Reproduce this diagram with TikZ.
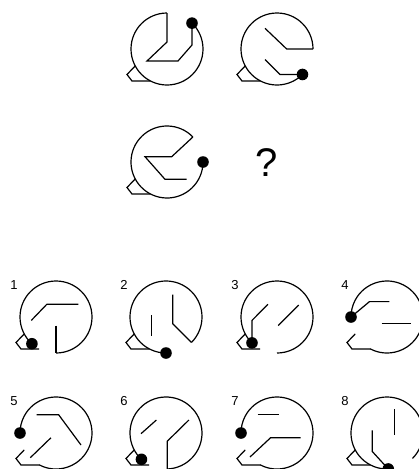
\documentclass[tikz,border=0pt]{standalone}
\usepackage{fontspec}
\setmainfont{Liberation Sans}
\tikzset{
  figline/.style={line width=1.2pt, line join=miter},
  dotmark/.style={fill=black},
  numlabel/.style={font=\fontsize{13}{13}\selectfont, inner sep=0pt},
  tabpath/.pic={\draw[figline] (208:36) -- (-40,-25.5) -- (-35,-32) -- (-17,-32);}
}
\begin{document}
\begin{tikzpicture}[x=1pt,y=1pt]
\useasboundingbox (0,0) rectangle (419,-469);
% Figure A
\begin{scope}[shift={(167,-49)}]
  \draw[figline] (90:36) arc[start angle=90,end angle=406,radius=36];
  \draw[figline] (0,36) -- (0,7) -- (-20,-12) -- (11,-12) -- (25,4) -- (46:36);
  \fill[dotmark] (46:36) circle[radius=5.8];
  \pic {tabpath};
\end{scope}
% Figure B
\begin{scope}[shift={(277,-49)}]
  \draw[figline] (0:36) arc[start angle=0,end angle=315,radius=36];
  \draw[figline] (0:36) -- (9.7,0) -- (-12,20.7);
  \draw[figline] (-12,-10.5) -- (3,-25.5) -- (315:36);
  \fill[dotmark] (315:36) circle[radius=5.8];
  \pic {tabpath};
\end{scope}
% Figure C
\begin{scope}[shift={(167,-162)}]
  \draw[figline] (44:36) arc[start angle=44,end angle=360,radius=36];
  \draw[figline] (44:36) -- (4.7,5.3) -- (-22,5.3) -- (-2,-17.3) -- (19.7,-17.3);
  \fill[dotmark] (0:36) circle[radius=5.8];
  \pic {tabpath};
\end{scope}
\node[font=\fontsize{40}{40}\selectfont, inner sep=0pt] (qm) at (267,-163) {?};
% Option 1
\begin{scope}[shift={(56,-317)}]
  \node[numlabel] (l1) at (-42,32) {1};
  \draw[figline] (-90:36) arc[start angle=-90,end angle=228,radius=36];
  \draw[figline] (-24.7,-3.4) -- (-9.2,12.7) -- (22.3,12.7);
  \draw[figline] (0,-8.6) -- (0,-36);
  \pic {tabpath};
  \fill[dotmark] (228:36) circle[radius=5.8];
\end{scope}
% Option 2
\begin{scope}[shift={(166,-317)}]
  \node[numlabel] (l2) at (-42,32) {2};
  \draw[figline] (315:36) arc[start angle=315,end angle=630,radius=36];
  \draw[figline] (-14.7,1.7) -- (-14.7,-18.8);
  \draw[figline] (6.8,22.3) -- (6.8,-6.8) -- (315:36);
  \pic {tabpath};
  \fill[dotmark] (270:36) circle[radius=5.8];
\end{scope}
% Option 3
\begin{scope}[shift={(277,-317)}]
  \node[numlabel] (l3) at (-42,32) {3};
  \draw[figline] (270:36) arc[start angle=270,end angle=586,radius=36];
  \draw[figline] (226:36) -- (-25,-3.4) -- (-9.1,12.7);
  \draw[figline] (1.2,-8.6) -- (21.7,12);
  \pic {tabpath};
  \fill[dotmark] (226:36) circle[radius=5.8];
\end{scope}
% Option 4
\begin{scope}[shift={(387,-317)}]
  \node[numlabel] (l4) at (-42,32) {4};
  \draw[figline] (242:36) arc[start angle=242,end angle=540,radius=36];
  \draw[figline] (180:36) -- (-17.5,15.4) -- (2.4,15.4);
  \draw[figline] (-5.5,-6.2) -- (24.3,-6.2);
  \pic {tabpath};
  \fill[dotmark] (180:36) circle[radius=5.8];
\end{scope}
% Option 5
\begin{scope}[shift={(56,-433)}]
  \node[numlabel] (l5) at (-42,32) {5};
  \draw[figline] (242:36) arc[start angle=242,end angle=540,radius=36];
  \draw[figline] (-19.5,18.2) -- (2.7,18.2) -- (25,-12);
  \draw[figline] (-5.1,-4.8) -- (-25.7,-24.7);
  \pic {tabpath};
  \fill[dotmark] (180:36) circle[radius=5.8];
\end{scope}
% Option 6
\begin{scope}[shift={(166,-433)}]
  \node[numlabel] (l6) at (-42,32) {6};
  \draw[figline] (272:36) arc[start angle=272,end angle=587,radius=36];
  \draw[figline] (-9.6,13) -- (-25,-0.7);
  \draw[figline] (22.9,13) -- (1.3,-8.2) -- (272:36);
  \pic {tabpath};
  \fill[dotmark] (227:36) circle[radius=5.8];
\end{scope}
% Option 7
\begin{scope}[shift={(277,-433)}]
  \node[numlabel] (l7) at (-42,32) {7};
  \draw[figline] (242:36) arc[start angle=242,end angle=540,radius=36];
  \draw[figline] (-19.5,18.2) -- (2.4,18.2);
  \draw[figline] (23.6,-4.8) -- (-6.5,-4.8) -- (-27,-24);
  \pic {tabpath};
  \fill[dotmark] (180:36) circle[radius=5.8];
\end{scope}
% Option 8
\begin{scope}[shift={(387,-433)}]
  \node[numlabel] (l8) at (-42,32) {8};
  \draw[figline] (315:36) arc[start angle=315,end angle=632,radius=36];
  \draw[figline] (7.2,24) -- (7.2,-2.4);
  \draw[figline] (-14.7,2.7) -- (-14.7,-18.5) -- (272:36);
  \pic {tabpath};
  \fill[dotmark] (272:36) circle[radius=5.8];
\end{scope}
\end{tikzpicture}
\end{document}
